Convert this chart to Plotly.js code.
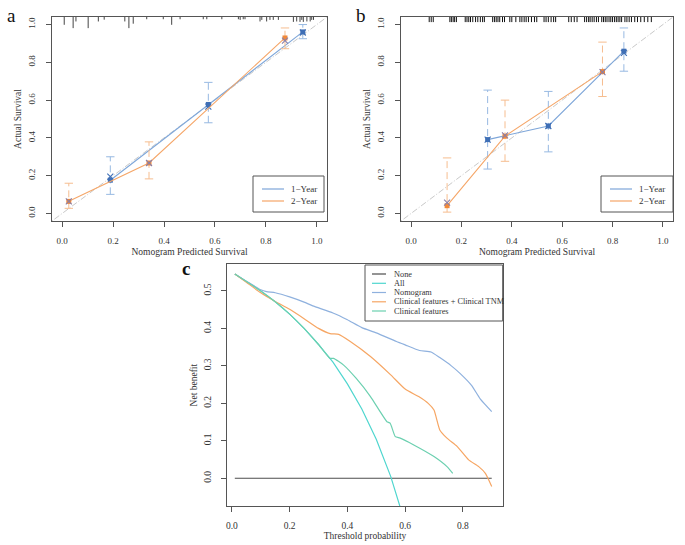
<!DOCTYPE html>
<html>
<head>
<meta charset="utf-8">
<script src="https://cdn.plot.ly/plotly-3.0.1.min.js"></script>
<style>
  html, body { margin: 0; padding: 0; background: #fff; }
  #chart { width: 685px; height: 545px; }
</style>
</head>
<body>
<div id="chart"></div>
<script>
// ---- calibration panel a (training) ----
const aOneX = [0.189, 0.574, 0.945];
const aOneObs = [0.176, 0.577, 0.961];
const aOneLo = [0.101, 0.480, 0.925];
const aOneHi = [0.300, 0.694, 1.000];
const aOneCorr = [0.195, 0.566, 0.958];

const aTwoX = [0.026, 0.341, 0.875];
const aTwoObs = [0.064, 0.267, 0.929];
const aTwoLo = [0.027, 0.183, 0.872];
const aTwoHi = [0.160, 0.379, 0.982];
const aTwoCorr = [0.064, 0.267, 0.915];

// rug of predicted values at the top of panel a (x, relative frequency)
const rugAx = [0.008, 0.043, 0.054, 0.102, 0.142, 0.165, 0.246, 0.262, 0.279, 0.332, 0.397, 0.430,
  0.463, 0.554, 0.568, 0.627, 0.692, 0.699, 0.711, 0.718, 0.777, 0.784, 0.803, 0.816, 0.829, 0.849,
  0.908, 0.921, 0.934, 0.941, 0.947, 0.961, 0.974, 0.980, 0.987];
const rugAn = [3.5, 5, 2, 5, 2, 1.2, 2, 5, 3, 1, 1, 3.5, 1, 1, 1, 1, 1, 1.3, 1, 1, 2, 1.3, 2, 1.3,
  1.3, 1.3, 2.2, 2, 2.2, 1.3, 2.2, 2, 2, 1.3, 1.3];

// ---- calibration panel b (validation) ----
const bOneX = [0.304, 0.545, 0.845];
const bOneObs = [0.391, 0.463, 0.859];
const bOneLo = [0.235, 0.326, 0.753];
const bOneHi = [0.653, 0.646, 0.982];
const bOneCorr = [0.391, 0.463, 0.850];

const bTwoX = [0.143, 0.373, 0.760];
const bTwoObs = [0.041, 0.409, 0.751];
const bTwoLo = [0.007, 0.276, 0.619];
const bTwoHi = [0.294, 0.600, 0.907];
const bTwoCorr = [0.057, 0.413, 0.748];

const rugBx = [0.072, 0.080, 0.088, 0.154, 0.160, 0.167, 0.173, 0.180, 0.215, 0.222, 0.229, 0.236,
  0.245, 0.256, 0.265, 0.275, 0.284, 0.291, 0.324, 0.331, 0.338, 0.345, 0.352, 0.363, 0.371, 0.392,
  0.400, 0.416, 0.432, 0.440, 0.449, 0.457, 0.466, 0.478, 0.490, 0.499, 0.528, 0.536, 0.545, 0.556,
  0.566, 0.574, 0.626, 0.636, 0.648, 0.659, 0.689, 0.697, 0.705, 0.711, 0.719, 0.727, 0.736, 0.744,
  0.757, 0.764, 0.771, 0.778, 0.786, 0.793, 0.800, 0.808, 0.815, 0.822, 0.829, 0.836, 0.849, 0.857,
  0.866, 0.875, 0.888, 0.899, 0.912, 0.926, 0.940, 0.954];

const calNames = ["1\u2212Year", "2\u2212Year"];

// ---- decision curves panel c ----
const noneX = [0.01, 0.90];
const noneY = [0, 0];

const allX = [0.01, 0.05, 0.10, 0.15, 0.20, 0.25, 0.30, 0.35, 0.40, 0.45, 0.50, 0.55, 0.58, 0.60];
const allY = [0.545, 0.525, 0.500, 0.471, 0.438, 0.400, 0.357, 0.310, 0.252, 0.185, 0.104, 0.005, -0.068, -0.120];

const nomoX = [0.01, 0.05, 0.10, 0.12, 0.15, 0.20, 0.25, 0.28, 0.35, 0.40, 0.45, 0.50, 0.57, 0.60,
  0.65, 0.69, 0.72, 0.76, 0.79, 0.83, 0.86, 0.90];
const nomoY = [0.545, 0.526, 0.503, 0.498, 0.495, 0.484, 0.470, 0.460, 0.441, 0.423, 0.402, 0.388,
  0.365, 0.356, 0.341, 0.337, 0.322, 0.300, 0.280, 0.248, 0.212, 0.178];

const tnmX = [0.01, 0.05, 0.10, 0.15, 0.20, 0.25, 0.30, 0.34, 0.37, 0.41, 0.48, 0.55, 0.60, 0.647,
  0.68, 0.70, 0.72, 0.745, 0.78, 0.82, 0.855, 0.878, 0.90];
const tnmY = [0.545, 0.523, 0.495, 0.472, 0.451, 0.426, 0.400, 0.386, 0.384, 0.365, 0.325, 0.276,
  0.238, 0.218, 0.200, 0.182, 0.129, 0.107, 0.085, 0.049, 0.031, 0.013, -0.022];

const clinX = [0.01, 0.05, 0.10, 0.15, 0.20, 0.25, 0.30, 0.34, 0.352, 0.387, 0.43, 0.48, 0.51, 0.537,
  0.548, 0.566, 0.583, 0.63, 0.70, 0.745, 0.765];
const clinY = [0.545, 0.525, 0.500, 0.471, 0.438, 0.400, 0.357, 0.320, 0.320, 0.302, 0.267, 0.218,
  0.182, 0.151, 0.147, 0.111, 0.107, 0.089, 0.058, 0.031, 0.013];

const dcaNames = ["None", "All", "Nomogram", "Clinical features + Clinical TNM", "Clinical features"];
const dcaColors = ["#4d4d4d", "#4fd6cf", "#8fb1de", "#f6a664", "#6cd0b0"];

// ---- layout helpers (pixel -> paper) ----
const W = 685, H = 545;
const fx = (x) => x / W;
const fy = (y) => 1 - y / H;

const blue = { line: "#7ea6d9", mark: "#3f6fb6", bar: "#97b9e2" };
const orange = { line: "#f5a668", mark: "#f0893a", bar: "#f6bd8f" };
const xMarkTwo = "#8a7fa8";

const calRange = [-0.04, 1.04];
const serif = "Liberation Serif, Times New Roman, serif";

function calTraces(xa, ya, x, obs, lo, hi, corr, col, xcol, name) {
  const ex = [], ey = [], cx = [], cy = [];
  for (let i = 0; i < x.length; i++) {
    ex.push(x[i], x[i], null);
    ey.push(lo[i], hi[i], null);
    cx.push(x[i], x[i]);
    cy.push(lo[i], hi[i]);
  }
  return [
    { x: ex, y: ey, xaxis: xa, yaxis: ya, mode: "lines", hoverinfo: "skip", showlegend: false,
      line: { color: col.bar, width: 1, dash: "7px,4px" } },
    { x: cx, y: cy, xaxis: xa, yaxis: ya, mode: "markers", hoverinfo: "skip", showlegend: false,
      marker: { symbol: "line-ew-open", size: 6, color: col.bar, line: { color: col.bar, width: 1 } } },
    { x: x, y: obs, xaxis: xa, yaxis: ya, mode: "lines+markers", name: name, showlegend: false,
      line: { color: col.line, width: 1.1 },
      marker: { symbol: "square", size: 5, color: col.mark, line: { width: 0 } } },
    { x: x, y: corr, xaxis: xa, yaxis: ya, mode: "markers", hoverinfo: "skip", showlegend: false,
      marker: { symbol: "x-thin-open", size: 6, color: xcol, line: { color: xcol, width: 1.1 } } }
  ];
}

function rugTrace(xa, ya, xs, ns, top, unit, color) {
  const rx = [], ry = [];
  xs.forEach((v, i) => {
    rx.push(v, v, null);
    ry.push(top, top - (ns ? ns[i] : 1) * unit, null);
  });
  return { x: rx, y: ry, xaxis: xa, yaxis: ya, mode: "lines", hoverinfo: "skip", showlegend: false,
    line: { color: color, width: 1 } };
}

const diag = [-0.1, 1.1];
function diagTrace(xa, ya) {
  return { x: diag, y: diag, xaxis: xa, yaxis: ya, mode: "lines", hoverinfo: "skip", showlegend: false,
    line: { color: "#c9c9c9", width: 1, dash: "6px,2px,1px,2px" } };
}

const data = [
  diagTrace("x", "y"),
  rugTrace("x", "y", rugAx, rugAn, calRange[1], 0.0118, "#444"),
  ...calTraces("x", "y", aOneX, aOneObs, aOneLo, aOneHi, aOneCorr, blue, blue.mark, calNames[0]),
  ...calTraces("x", "y", aTwoX, aTwoObs, aTwoLo, aTwoHi, aTwoCorr, orange, xMarkTwo, calNames[1]),

  diagTrace("x2", "y2"),
  rugTrace("x2", "y2", rugBx, null, calRange[1], 0.027, "#111"),
  ...calTraces("x2", "y2", bOneX, bOneObs, bOneLo, bOneHi, bOneCorr, blue, blue.mark, calNames[0]),
  ...calTraces("x2", "y2", bTwoX, bTwoObs, bTwoLo, bTwoHi, bTwoCorr, orange, xMarkTwo, calNames[1]),

  { x: noneX, y: noneY, xaxis: "x3", yaxis: "y3", mode: "lines", name: dcaNames[0], line: { color: dcaColors[0], width: 1.2 } },
  { x: allX, y: allY, xaxis: "x3", yaxis: "y3", mode: "lines", name: dcaNames[1], line: { color: dcaColors[1], width: 1.2 } },
  { x: nomoX, y: nomoY, xaxis: "x3", yaxis: "y3", mode: "lines", name: dcaNames[2], line: { color: dcaColors[2], width: 1.2, shape: "spline", smoothing: 0.5 } },
  { x: tnmX, y: tnmY, xaxis: "x3", yaxis: "y3", mode: "lines", name: dcaNames[3], line: { color: dcaColors[3], width: 1.2, shape: "spline", smoothing: 0.5 } },
  { x: clinX, y: clinY, xaxis: "x3", yaxis: "y3", mode: "lines", name: dcaNames[4], line: { color: dcaColors[4], width: 1.2, shape: "spline", smoothing: 0.5 } }
];

function axis(domain, range, tickvals, extra) {
  return Object.assign({
    domain: domain, range: range, tickvals: tickvals, tickformat: ".1f",
    showgrid: false, zeroline: false, showline: true, mirror: true,
    linecolor: "#555", linewidth: 1, ticks: "outside", ticklen: 5, tickcolor: "#555",
    tickfont: { family: serif, size: 9, color: "#333" }
  }, extra);
}

const calTicks = [0, 0.2, 0.4, 0.6, 0.8, 1.0];
const titleFont = { family: serif, size: 9.5, color: "#333" };

const layout = {
  width: W, height: H,
  margin: { l: 0, r: 0, t: 0, b: 0 },
  paper_bgcolor: "#fff", plot_bgcolor: "#fff",
  showlegend: false,
  xaxis: axis([fx(52), fx(327)], calRange, calTicks, { anchor: "y", ticklabelstandoff: 6,
    title: { text: "Nomogram Predicted Survival", font: titleFont, standoff: 3 } }),
  yaxis: axis([fy(221), fy(17)], calRange, calTicks, { anchor: "x", tickangle: -90, ticklabelstandoff: 7,
    title: { text: "Actual Survival", font: titleFont, standoff: 4 } }),
  xaxis2: axis([fx(401), fx(673)], calRange, calTicks, { anchor: "y2", ticklabelstandoff: 6,
    title: { text: "Nomogram Predicted Survival", font: titleFont, standoff: 3 } }),
  yaxis2: axis([fy(221), fy(17)], calRange, calTicks, { anchor: "x2", tickangle: -90, ticklabelstandoff: 7,
    title: { text: "Actual Survival", font: titleFont, standoff: 4 } }),
  xaxis3: axis([fx(227.3), fx(502.7)], [-0.016, 0.938], [0, 0.2, 0.4, 0.6, 0.8], { anchor: "y3", ticklabelstandoff: 6,
    tickfont: { family: serif, size: 9.5, color: "#333" },
    title: { text: "Threshold probability", font: titleFont, standoff: 1 } }),
  yaxis3: axis([fy(506), fy(264.3)], [-0.074, 0.571], [0, 0.1, 0.2, 0.3, 0.4, 0.5], { anchor: "x3", tickangle: -90, ticklabelstandoff: 7,
    tickfont: { family: serif, size: 9.5, color: "#333" },
    title: { text: "Net benefit", font: titleFont, standoff: 3 } }),
  shapes: [],
  annotations: []
};

// panel letters
const letters = [["a", 11, 15, false], ["b", 361, 15, false], ["c", 186, 268, true]];
letters.forEach(([t, x, y, bold]) => {
  layout.annotations.push({ xref: "paper", yref: "paper", x: fx(x), y: fy(y), text: bold ? "<b>" + t + "</b>" : t,
    showarrow: false, xanchor: "center", yanchor: "middle",
    font: { family: serif, size: 19, color: "#111" } });
});

// hand-drawn legends (box, key lines, labels)
function legend(box, keyX0, keyX1, textX, rows, names, colors, size) {
  layout.shapes.push({ type: "rect", xref: "paper", yref: "paper",
    x0: fx(box[0]), x1: fx(box[1]), y0: fy(box[3]), y1: fy(box[2]),
    line: { color: "#555", width: 1 }, fillcolor: "rgba(255,255,255,0)" });
  names.forEach((n, i) => {
    layout.shapes.push({ type: "line", xref: "paper", yref: "paper",
      x0: fx(keyX0), x1: fx(keyX1), y0: fy(rows[i]), y1: fy(rows[i]),
      line: { color: colors[i], width: 1.2 } });
    layout.annotations.push({ xref: "paper", yref: "paper", x: fx(textX), y: fy(rows[i]), text: n,
      showarrow: false, xanchor: "left", yanchor: "middle",
      font: { family: serif, size: size, color: "#333" } });
  });
}
legend([253, 324, 176, 212], 262, 284, 289, [189, 201], calNames, [blue.line, orange.line], 9);
legend([601, 673, 176, 212], 610, 632, 637, [189, 201], calNames, [blue.line, orange.line], 9);
legend([365, 502.7, 265, 321], 372, 386, 392, [274, 283.3, 292.5, 301.8, 311], dcaNames, dcaColors, 8.3);

Plotly.newPlot("chart", data, layout, { displayModeBar: false, staticPlot: true });
</script>
</body>
</html>
